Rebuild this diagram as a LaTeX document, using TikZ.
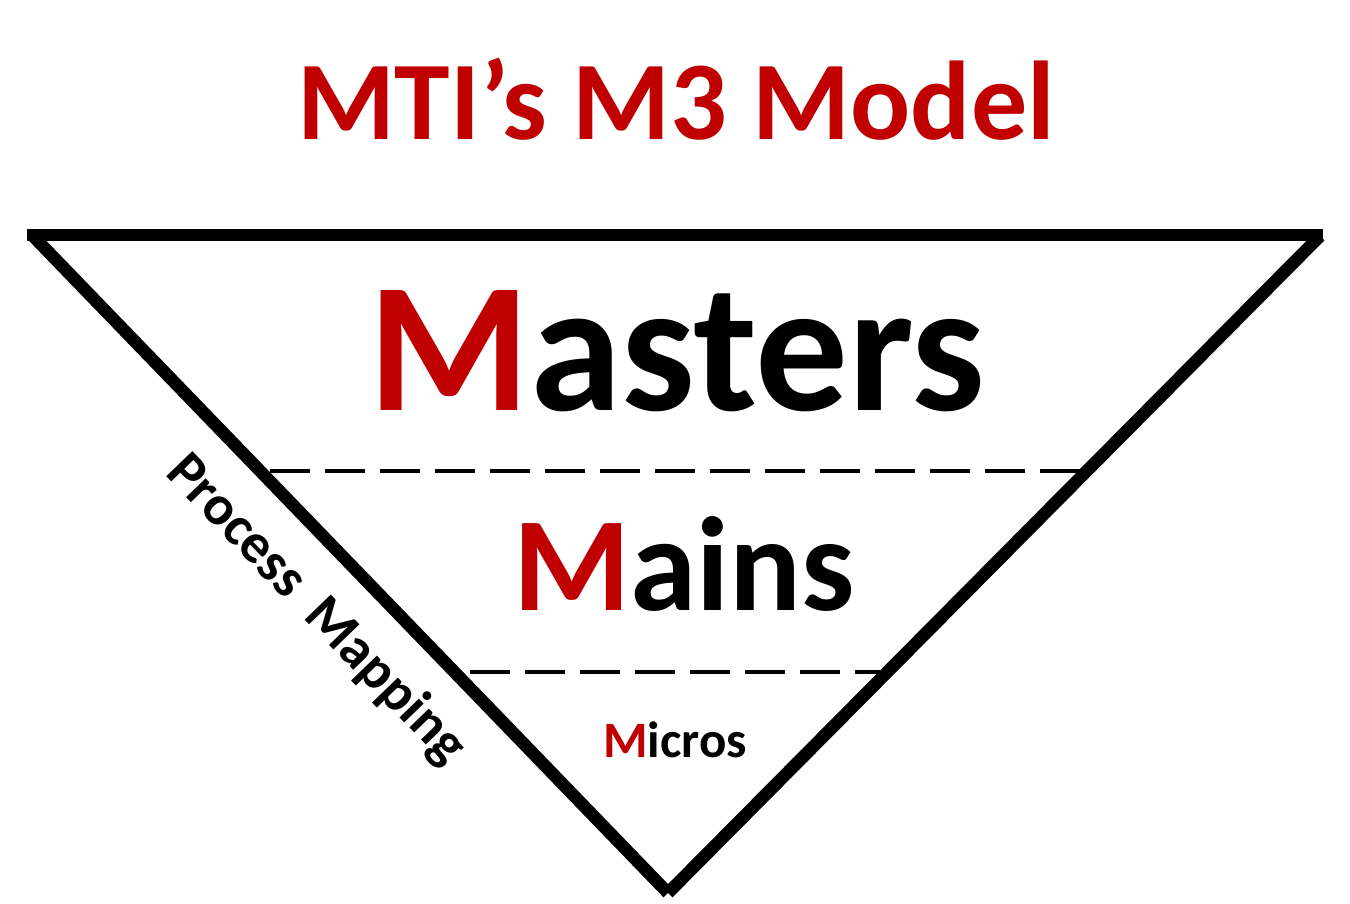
\documentclass[tikz,border=0pt]{standalone}
\usepackage{fontspec}
\setmainfont{Carlito}
\definecolor{mred}{HTML}{C00000}
\begin{document}
\begin{tikzpicture}[x=1pt,y=-1pt,
  edge/.style={line width=12.5pt},
  divider/.style={line width=4.5pt, dash pattern=on 40pt off 15pt},
  lbl/.style={inner sep=0pt, anchor=base, font=\bfseries}]
\useasboundingbox (0,0) rectangle (1350,904);
\coordinate (tl) at (33,236);
\coordinate (tr) at (1320,236);
\coordinate (bt) at (668,893);
\draw[edge] (27,235) -- (1323,235);
\draw[edge] (tl) -- (bt);
\draw[edge] (tr) -- (bt);
\coordinate (d1l) at (270,471);
\coordinate (d1r) at (1080,471);
\coordinate (d2l) at (470,672);
\coordinate (d2r) at (880,672);
\draw[divider] (d1l) -- (d1r);
\draw[divider] (d2l) -- (d2r);
\node[lbl, text=mred, font=\fontsize{112}{112}\selectfont\bfseries] (title) at (676,140) {MTI’s M3 Model};
\node[lbl, font=\fontsize{185}{185}\selectfont\bfseries] (masters) at (677,410) {\textcolor{mred}{M}asters};
\node[lbl, font=\fontsize{134}{134}\selectfont\bfseries] (mains) at (684,610) {\textcolor{mred}{M}ains};
\node[lbl, font=\fontsize{51}{51}\selectfont\bfseries] (micros) at (675,757) {\textcolor{mred}{M}icros};
\node[inner sep=0pt, rotate=-46, font=\fontsize{56}{56}\selectfont\bfseries] (pm) at (316,610) {Process\hspace{0.2em} Mapping};
\end{tikzpicture}
\end{document}
